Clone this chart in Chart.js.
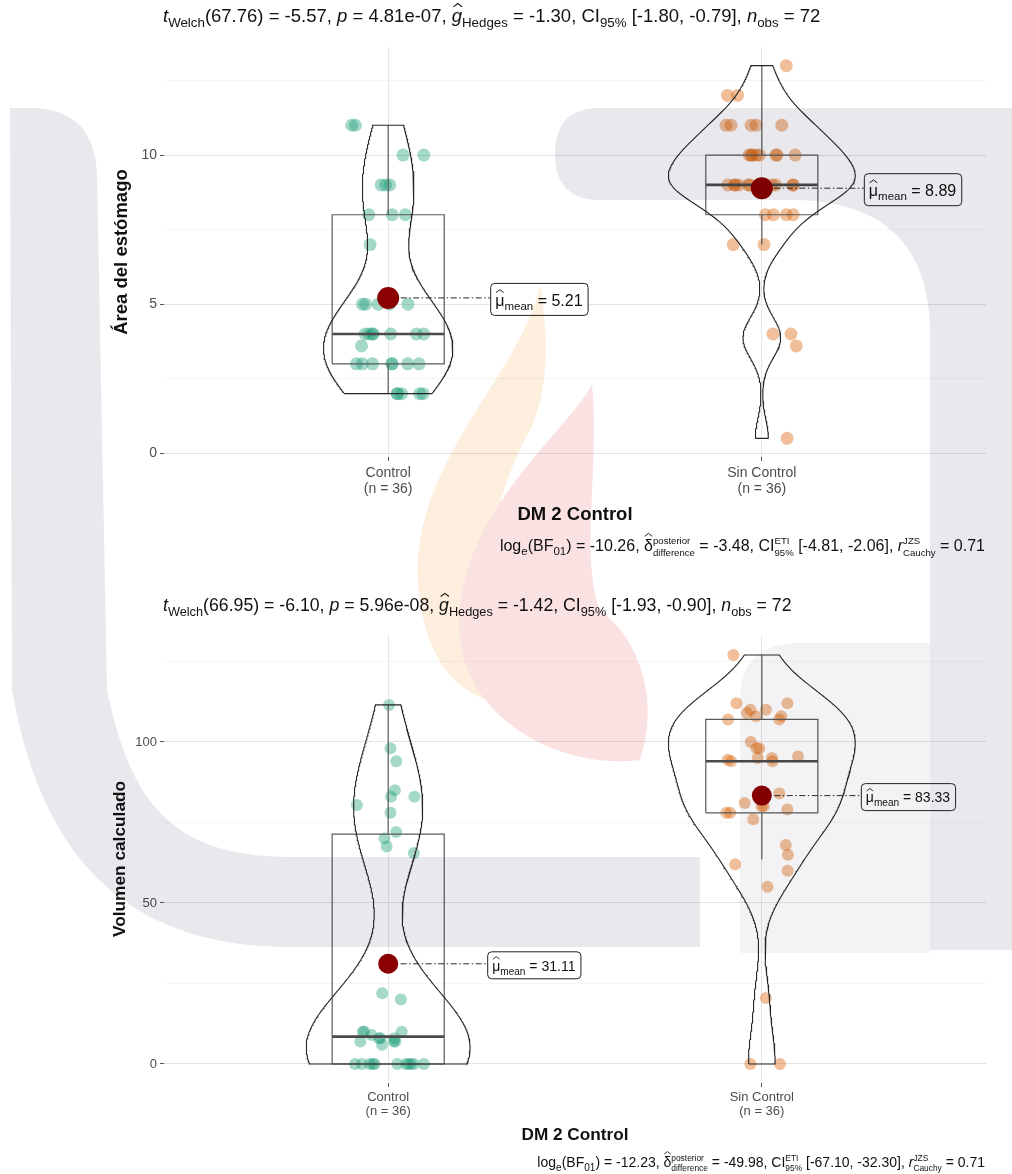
<!DOCTYPE html>
<html>
<head>
<meta charset="utf-8">
<script src="https://cdn.jsdelivr.net/npm/chart.js@4.4.1/dist/chart.umd.min.js"></script>
<style>
  html, body { margin: 0; padding: 0; background: #fff; }
  #wrap { position: relative; width: 1012px; height: 1174px; overflow: hidden; background: #fff; }
  .panel { position: absolute; left: 0; width: 1012px; height: 587px; }
  #p1 { top: 0; }
  #p2 { top: 587px; filter: blur(0.5px); }
  #mark { position: absolute; left: 0; top: 0; width: 1012px; height: 1174px; mix-blend-mode: multiply; pointer-events: none; }
</style>
</head>
<body>
<div id="wrap">
  <div class="panel" id="p1"><canvas id="c1" width="1012" height="587"></canvas></div>
  <div class="panel" id="p2"><canvas id="c2" width="1012" height="587"></canvas></div>
  <canvas id="mark" width="1012" height="1174"></canvas>
</div>
<script>
// ---------------- data ----------------
const groups = ['Control', 'Sin Control'];
const groupN = [36, 36];

// Área del estómago
const areaControl = [11, 11, 10, 10, 9, 9, 9, 8, 8, 8, 7, 5, 5, 5, 5, 5, 4, 4, 4, 4, 4, 4, 4, 3.6,
                     3, 3, 3, 3, 3, 3, 3, 2, 2, 2, 2, 2];
const areaSinControl = [13, 12, 12, 11, 11, 11, 11, 11, 10, 10, 10, 10, 10, 10, 10, 10,
                        9, 9, 9, 9, 9, 9, 9, 9, 9, 9, 8, 8, 8, 8, 7, 7, 4, 4, 3.6, 0.5];
const areaMeans = [5.21, 8.89];
const areaLo = [2, 7], areaQ1 = [3, 8], areaMed = [4, 9], areaQ3 = [8, 10], areaHi = [11, 13];
const areaTicks = [0, 5, 10];
const areaMinor = [2.5, 7.5, 12.5];

// Volumen calculado
const volControl = [111.5, 98, 94, 85, 83, 83, 80.4, 78, 72, 70, 67.5, 65.5, 22, 20, 10, 10, 10, 9,
                    8, 8, 8, 7, 7, 7, 6, 0, 0, 0, 0, 0, 0, 0, 0, 0, 0, 0];
const volSinControl = [0, 0, 20.5, 55, 60, 62, 65, 68, 76, 78, 78, 79, 80, 80, 81, 82, 84, 94,
                       94, 94.5, 95, 95, 95.5, 98, 98, 100, 107, 107, 108, 108, 109, 110, 110, 112, 112, 127];
const volMeans = [31.11, 83.33];
const volLo = [0, 63.5], volQ1 = [0, 78], volMed = [8.5, 94], volQ3 = [71.4, 107], volHi = [111.5, 127];
const volTicks = [0, 50, 100];
const volMinor = [25, 75, 125];

// ---------------- helpers ----------------
const FONT = '"Liberation Sans", Arial, sans-serif';
const POS = [1, 2];
const COLS = ['rgba(27,158,119,0.40)', 'rgba(217,95,2,0.40)'];

function mulberry32(a) {
  return function () {
    a |= 0; a = a + 0x6D2B79F5 | 0;
    let t = Math.imul(a ^ a >>> 15, 1 | a);
    t = t + Math.imul(t ^ t >>> 7, 61 | t) ^ t;
    return ((t ^ t >>> 14) >>> 0) / 4294967296;
  };
}
function quantile(sorted, p) {
  const h = (sorted.length - 1) * p, i = Math.floor(h);
  const j = Math.min(i + 1, sorted.length - 1);
  return sorted[i] + (h - i) * (sorted[j] - sorted[i]);
}
function bwNrd0(x) {
  const n = x.length, m = x.reduce((a, b) => a + b, 0) / n;
  const sd = Math.sqrt(x.reduce((a, v) => a + (v - m) * (v - m), 0) / (n - 1));
  const s = [...x].sort((a, b) => a - b);
  const iqr = quantile(s, 0.75) - quantile(s, 0.25);
  return 0.9 * Math.min(sd, iqr / 1.34) * Math.pow(n, -0.2);
}
function kde(x, bw, ys) {
  const k = 1 / (x.length * bw * Math.sqrt(2 * Math.PI));
  return ys.map(y => k * x.reduce((a, v) => a + Math.exp(-0.5 * ((y - v) / bw) ** 2), 0));
}

function fnt(size, it, bold) { return (it ? 'italic ' : '') + (bold ? 'bold ' : '') + size + 'px ' + FONT; }
function measureRich(ctx, segs, size) {
  let w = 0;
  for (const s of segs) {
    if (s.k === 'sub') { ctx.font = fnt(size * 0.72); s.w = ctx.measureText(s.s).width; }
    else if (s.k === 'ss') { ctx.font = fnt(size * 0.6); s.w = Math.max(ctx.measureText(s.a).width, ctx.measureText(s.b).width); }
    else { ctx.font = fnt(size, s.i, s.b); s.w = ctx.measureText(s.s).width; }
    s.x = w; w += s.w;
  }
  return w;
}
function drawRich(ctx, segs, x, y, size, align, color) {
  const w = measureRich(ctx, segs, size);
  const x0 = align === 'right' ? x - w : align === 'center' ? x - w / 2 : x;
  ctx.save();
  ctx.fillStyle = color; ctx.strokeStyle = color;
  ctx.textAlign = 'left'; ctx.textBaseline = 'alphabetic';
  for (const s of segs) {
    const sx = x0 + s.x;
    if (s.k === 'sub') { ctx.font = fnt(size * 0.72); ctx.fillText(s.s, sx, y + size * 0.28); }
    else if (s.k === 'ss') {
      ctx.font = fnt(size * 0.6);
      ctx.fillText(s.a, sx, y - size * 0.45);
      ctx.fillText(s.b, sx, y + size * 0.32);
    } else {
      ctx.font = fnt(size, s.i, s.b);
      ctx.fillText(s.s, sx, y);
      if (s.k === 'hat') {
        const hy = y - size * (s.tall ? 1.1 : 1.0);
        const cx = sx + s.w / 2 + (s.i ? size * 0.05 : 0);
        const hw = Math.max(s.w * 0.42, size * 0.22);
        ctx.beginPath();
        ctx.lineWidth = Math.max(0.8, size / 17);
        ctx.moveTo(cx - hw, hy + size * 0.18);
        ctx.lineTo(cx, hy);
        ctx.lineTo(cx + hw, hy + size * 0.18);
        ctx.stroke();
      }
    }
  }
  ctx.restore();
  return w;
}
const T = (s, i) => ({ k: 't', s, i });
const SUB = s => ({ k: 'sub', s });
const SS = (a, b) => ({ k: 'ss', a, b });
const HAT = (s, i, tall) => ({ k: 'hat', s, i, tall });

function subtitleSegs(df, t, p, g, ci, n) {
  return [T('t', true), SUB('Welch'), T('(' + df + ') = ' + t + ', '), T('p', true), T(' = ' + p + ', '),
          HAT('g', true), SUB('Hedges'), T(' = ' + g + ', CI'), SUB('95%'), T(' ' + ci + ', '),
          T('n', true), SUB('obs'), T(' = ' + n)];
}
function captionSegs(bf, d, ci, r) {
  return [T('log'), SUB('e'), T('(BF'), SUB('01'), T(') = ' + bf + ', '), HAT('δ', false, true),
          SS('posterior', 'difference'), T(' = ' + d + ', CI'), SS('ETI', '95%'), T(' ' + ci + ', '),
          T('r', true), SS('JZS', 'Cauchy'), T(' = ' + r)];
}

// ---------------- panel builder ----------------
function buildPanel(canvas, cfg) {
  const rnd = mulberry32(cfg.seed);
  const vals = cfg.values;
  const grids = vals.map(v => {
    const lo = Math.min(...v), hi = Math.max(...v);
    return Array.from({ length: 300 }, (_, i) => lo + (hi - lo) * i / 299);
  });
  const dens = vals.map((v, g) => kde(v, bwNrd0(v), grids[g]));
  const maxD = Math.max(...dens.flat());
  const datasets = [];
  const line = (data, color, width, order, dash) => ({
    type: 'scatter', data, showLine: true, pointRadius: 0, borderColor: color, borderWidth: width,
    borderDash: dash || [], fill: false, order, tension: 0
  });

  vals.forEach((v, g) => {
    const p = POS[g];
    // jittered raw observations
    datasets.push({
      type: 'scatter', order: 13, pointRadius: cfg.ptR, pointBorderWidth: 0,
      pointBackgroundColor: COLS[g], borderWidth: 0,
      data: v.map(y => ({ x: p + (rnd() * 2 - 1) * 0.1, y }))
    });
    // box and whiskers
    const hw = 0.15;
    datasets.push(line([{ x: p - hw, y: cfg.q1[g] }, { x: p + hw, y: cfg.q1[g] }, { x: p + hw, y: cfg.q3[g] },
                        { x: p - hw, y: cfg.q3[g] }, { x: p - hw, y: cfg.q1[g] }], '#5a5a5a', 1.2, 12));
    datasets.push(line([{ x: p, y: cfg.q3[g] }, { x: p, y: cfg.hi[g] }], '#5a5a5a', 1.2, 12));
    datasets.push(line([{ x: p, y: cfg.lo[g] }, { x: p, y: cfg.q1[g] }], '#5a5a5a', 1.2, 12));
    datasets.push(line([{ x: p - hw, y: cfg.med[g] }, { x: p + hw, y: cfg.med[g] }], '#4a4a4a', 2.6, 12));
    // violin (gaussian kernel density, trimmed to the data range)
    const left = grids[g].map((y, i) => ({ x: p - 0.25 * dens[g][i] / maxD, y }));
    const right = grids[g].map((y, i) => ({ x: p + 0.25 * dens[g][i] / maxD, y })).reverse();
    datasets.push(line([...left, ...right, left[0]], '#262626', 1.1, 11));
    // connector to the mean label
    datasets.push(line([{ x: p, y: cfg.means[g] }, { x: p + cfg.labOff, y: cfg.means[g] }], '#111', 0.9, 6, [6, 2.5, 1.5, 2.5]));
    // mean
    datasets.push({ type: 'scatter', order: 5, pointRadius: cfg.meanR, pointBorderWidth: 0,
                    pointBackgroundColor: '#8b0000', data: [{ x: p, y: cfg.means[g] }] });
  });

  const isMajor = v => cfg.ticks.some(t => Math.abs(t - v) < 1e-9);
  const tickFont = { family: FONT, size: cfg.tickSize };

  const textPlugin = {
    id: 'panelText',
    afterDatasetsDraw(chart) {
      const ctx = chart.ctx, xs = chart.scales.x, ys = chart.scales.y;
      // mean labels
      cfg.means.forEach((m, g) => {
        const segs = [HAT('μ', false), SUB('mean'), T(' = ' + m.toFixed(2))];
        const w = measureRich(ctx, segs, cfg.labSize);
        const bx = xs.getPixelForValue(POS[g] + cfg.labOff);
        const by = ys.getPixelForValue(m) + 1;
        const bw = w + cfg.labPad * 2, bh = cfg.labH;
        ctx.save();
        ctx.beginPath();
        ctx.roundRect(bx + 0.5, by - bh / 2 + 0.5, bw, bh, 4);
        ctx.fillStyle = '#ffffff'; ctx.fill();
        ctx.lineWidth = 1; ctx.strokeStyle = '#222'; ctx.stroke();
        ctx.restore();
        drawRich(ctx, segs, bx + cfg.labPad, by + cfg.labSize * 0.42, cfg.labSize, 'left', '#111');
      });
    },
    afterDraw(chart) {
      const ctx = chart.ctx, a = chart.chartArea;
      drawRich(ctx, cfg.subtitle, a.left - 1, cfg.subY, cfg.subSize, 'left', '#111');
      drawRich(ctx, cfg.caption, a.right - 1, cfg.capY, cfg.capSize, 'right', '#111');
      ctx.save();
      ctx.fillStyle = '#111';
      ctx.font = fnt(cfg.titleSize, false, true);
      ctx.textAlign = 'center'; ctx.textBaseline = 'middle';
      ctx.fillText('DM 2 Control', (a.left + a.right) / 2, cfg.xTitleY);
      ctx.translate(cfg.yTitleX, (a.top + a.bottom) / 2);
      ctx.rotate(-Math.PI / 2);
      ctx.font = fnt(cfg.yTitleSize, false, true);
      ctx.fillText(cfg.yTitle, 0, 0);
      ctx.restore();
    }
  };

  return new Chart(canvas, {
    data: { datasets },
    plugins: [textPlugin],
    options: {
      responsive: false, animation: false, devicePixelRatio: 1, events: [],
      layout: { padding: { left: 124, right: 26, top: cfg.padTop, bottom: cfg.padBottom } },
      plugins: { legend: { display: false }, tooltip: { enabled: false } },
      scales: {
        x: {
          type: 'linear', min: 0.4, max: 2.6,
          afterBuildTicks: s => { s.ticks = POS.map(v => ({ value: v })); },
          afterFit: s => { s.height = 40; },
          ticks: {
            autoSkip: false, maxRotation: 0, padding: cfg.xTickPad, color: '#4d4d4d',
            font: { family: FONT, size: cfg.tickSize, lineHeight: cfg.tickLH },
            callback: v => [groups[Math.round(v) - 1], '(n = ' + groupN[Math.round(v) - 1] + ')']
          },
          grid: { color: '#e6e6e6', lineWidth: 1, tickLength: 4, tickColor: '#555', drawTicks: true },
          border: { display: false }
        },
        y: {
          type: 'linear', min: cfg.yMin, max: cfg.yMax,
          afterBuildTicks: s => { s.ticks = [...cfg.ticks, ...cfg.minor].sort((a, b) => a - b).map(v => ({ value: v })); },
          afterFit: s => { s.width = 40; },
          ticks: {
            autoSkip: false, padding: 3, color: '#4d4d4d', font: tickFont,
            callback: v => isMajor(v) ? String(v) : ''
          },
          grid: {
            color: c => (c.tick && isMajor(c.tick.value)) ? '#e3e3e3' : '#efefef',
            lineWidth: c => (c.tick && isMajor(c.tick.value)) ? 1 : 0.6,
            tickColor: c => (c.tick && isMajor(c.tick.value)) ? '#555' : 'rgba(0,0,0,0)',
            tickLength: 4, drawTicks: true
          },
          border: { display: false }
        }
      }
    }
  });
}

buildPanel(document.getElementById('c1'), {
  seed: 7, values: [areaControl, areaSinControl], means: areaMeans,
  lo: areaLo, q1: areaQ1, med: areaMed, q3: areaQ3, hi: areaHi,
  ticks: areaTicks, minor: areaMinor, yMin: -0.125, yMax: 13.625,
  padTop: 47, padBottom: 90, xTickPad: 4, tickSize: 14, tickLH: 1.15,
  ptR: 6.5, meanR: 11, labOff: 0.273, labSize: 16, labH: 32, labPad: 5,
  subtitle: subtitleSegs('67.76', '-5.57', '4.81e-07', '-1.30', '[-1.80, -0.79]', 72),
  caption: captionSegs('-10.26', '-3.48', '[-4.81, -2.06]', '0.71'),
  subY: 22, subSize: 18.5, capY: 551, capSize: 16,
  titleSize: 18.5, xTitleY: 515, yTitle: 'Área del estómago', yTitleSize: 18.5, yTitleX: 122
});

buildPanel(document.getElementById('c2'), {
  seed: 11, values: [volControl, volSinControl], means: volMeans,
  lo: volLo, q1: volQ1, med: volMed, q3: volQ3, hi: volHi,
  ticks: volTicks, minor: volMinor, yMin: -5.9, yMax: 133.2,
  padTop: 48, padBottom: 51, xTickPad: 3, tickSize: 13, tickLH: 1.08,
  ptR: 6, meanR: 10, labOff: 0.265, labSize: 14, labH: 27, labPad: 5,
  subtitle: subtitleSegs('66.95', '-6.10', '5.96e-08', '-1.42', '[-1.93, -0.90]', 72),
  caption: captionSegs('-12.23', '-49.98', '[-67.10, -32.30]', '0.71'),
  subY: 24, subSize: 17.7, capY: 580, capSize: 14,
  titleSize: 17.2, xTitleY: 548, yTitle: 'Volumen calculado', yTitleSize: 17.3, yTitleX: 120
});

// ---------------- faint logo watermark over the figure ----------------
(function drawMark() {
  const c = document.getElementById('mark').getContext('2d');
  const grey = '#e8e8ed', light = '#f3f3f6';
  // left column sweeping into the lower band
  c.fillStyle = grey;
  c.beginPath();
  c.moveTo(10, 108); c.lineTo(33, 108); c.quadraticCurveTo(95, 110, 97, 175);
  c.lineTo(107, 690);
  c.bezierCurveTo(130, 800, 170, 857, 290, 857); c.lineTo(700, 857); c.lineTo(700, 947);
  c.lineTo(290, 947); c.bezierCurveTo(120, 947, 40, 850, 12, 690);
  c.closePath(); c.fill();
  // upper right arch
  c.beginPath();
  c.moveTo(600, 108); c.lineTo(1012, 108); c.lineTo(1012, 950); c.lineTo(930, 950); c.lineTo(930, 330);
  c.quadraticCurveTo(928, 205, 800, 200); c.lineTo(600, 200);
  c.quadraticCurveTo(555, 200, 555, 154); c.quadraticCurveTo(555, 108, 600, 108);
  c.closePath(); c.fill();
  // lower right block
  c.fillStyle = light;
  c.beginPath();
  c.moveTo(800, 643); c.lineTo(930, 643); c.lineTo(930, 953); c.lineTo(740, 953); c.lineTo(740, 700);
  c.quadraticCurveTo(740, 643, 800, 643); c.closePath(); c.fill();
  // flame, orange tongue
  c.fillStyle = '#fdeede';
  c.beginPath();
  c.moveTo(540, 285);
  c.bezierCurveTo(520, 380, 400, 470, 420, 600);
  c.bezierCurveTo(430, 680, 480, 710, 520, 700);
  c.bezierCurveTo(470, 640, 480, 520, 530, 430);
  c.bezierCurveTo(550, 390, 548, 330, 540, 285);
  c.closePath(); c.fill();
  // flame, red tongue
  c.fillStyle = '#fae2e2';
  c.beginPath();
  c.moveTo(592, 385);
  c.bezierCurveTo(560, 440, 450, 520, 460, 640);
  c.bezierCurveTo(470, 720, 560, 770, 640, 760);
  c.bezierCurveTo(660, 700, 640, 640, 600, 610);
  c.bezierCurveTo(580, 560, 600, 460, 592, 385);
  c.closePath(); c.fill();
})();
</script>
</body>
</html>
